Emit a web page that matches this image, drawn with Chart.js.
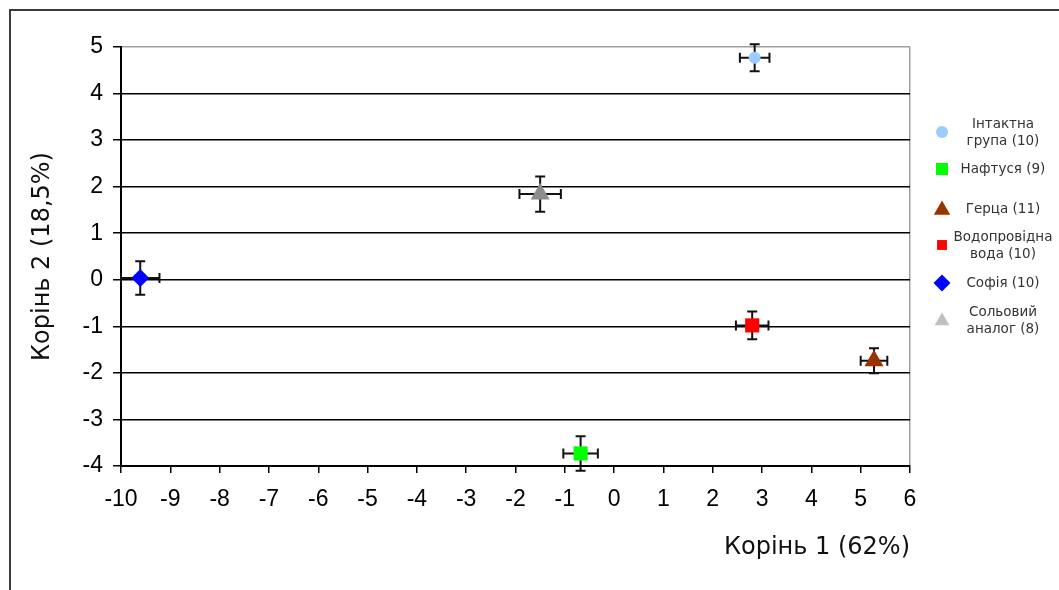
<!DOCTYPE html>
<html>
<head>
<meta charset="utf-8">
<script src="https://cdn.jsdelivr.net/npm/chart.js@4/dist/chart.umd.min.js"></script>
<style>
  html, body { margin: 0; padding: 0; background: #fff; }
  #wrap { position: relative; width: 1059px; height: 590px; }
</style>
</head>
<body>
<div id="wrap"><canvas id="c" width="1059" height="590"></canvas></div>
<script>
// Group names and legend wording (two-line entries split into lines)
const groupNames = ['Інтактна група (10)', 'Нафтуся (9)', 'Герца (11)', 'Водопровідна вода (10)', 'Софія (10)', 'Сольовий аналог (8)'];
const legendLines = [['Інтактна', 'група (10)'], ['Нафтуся (9)'], ['Герца (11)'], ['Водопровідна', 'вода (10)'], ['Софія (10)'], ['Сольовий', 'аналог (8)']];

// Group centroids on the two discriminant roots
const root1 = [2.85, -0.68, 5.27, 2.80, -9.61, -1.50];
const root2 = [4.77, -3.73, -1.74, -0.98, 0.04, 1.84];
// Standard errors along each root
const errRoot1 = [0.30, 0.35, 0.27, 0.33, 0.39, 0.42];
const errRoot2 = [0.29, 0.37, 0.27, 0.30, 0.36, 0.38];

// Axis ranges and titles
const xTicks = [-10, -9, -8, -7, -6, -5, -4, -3, -2, -1, 0, 1, 2, 3, 4, 5, 6];
const yTicks = [-4, -3, -2, -1, 0, 1, 2, 3, 4, 5];
const xTitle = 'Корінь 1 (62%)';
const yTitle = 'Корінь 2 (18,5%)';

// Marker appearance per group
const markerStyle = ['circle', 'rect', 'triangle', 'rect', 'rectRot', 'triangle'];
const markerColor = ['#99ccff', '#00ff00', '#993300', '#ff0000', '#0000ff', '#8c8c8c'];
const legendColor = ['#99ccff', '#00ff00', '#993300', '#ff0000', '#0000ff', '#c0c0c0'];
const markerRadius = [6, 10, 11, 10, 9, 11];
const legendRadius = [6, 8.5, 9.5, 7, 8.5, 8.5];

const datasets = groupNames.map((name, i) => ({
  label: name,
  data: [{ x: root1[i], y: root2[i] }],
  pointStyle: markerStyle[i],
  backgroundColor: markerColor[i],
  borderColor: markerColor[i],
  borderWidth: 0,
  pointRadius: markerRadius[i],
  pointHoverRadius: markerRadius[i]
}));

// Outer frame (top and left edges of the figure box)
const framePlugin = {
  id: 'frame',
  beforeDraw(chart) {
    const ctx = chart.ctx;
    ctx.save();
    ctx.strokeStyle = '#3c3c3c';
    ctx.lineWidth = 2;
    ctx.beginPath();
    ctx.moveTo(10, 590);
    ctx.lineTo(10, 10);
    ctx.lineTo(1059, 10);
    ctx.stroke();
    ctx.restore();
  }
};

// Error bars with end caps, drawn beneath the markers
const errorBarPlugin = {
  id: 'errorBars',
  beforeDatasetsDraw(chart) {
    const { ctx, scales: { x, y } } = chart;
    const cap = 5;
    ctx.save();
    ctx.strokeStyle = '#111';
    ctx.lineWidth = 2;
    root1.forEach((vx, i) => {
      const vy = root2[i];
      const px = x.getPixelForValue(vx);
      const py = y.getPixelForValue(vy);
      const x0 = x.getPixelForValue(vx - errRoot1[i]);
      const x1 = x.getPixelForValue(vx + errRoot1[i]);
      const y0 = y.getPixelForValue(vy - errRoot2[i]);
      const y1 = y.getPixelForValue(vy + errRoot2[i]);
      ctx.beginPath();
      ctx.moveTo(x0, py); ctx.lineTo(x1, py);
      ctx.moveTo(x0, py - cap); ctx.lineTo(x0, py + cap);
      ctx.moveTo(x1, py - cap); ctx.lineTo(x1, py + cap);
      ctx.moveTo(px, y0); ctx.lineTo(px, y1);
      ctx.moveTo(px - cap, y0); ctx.lineTo(px + cap, y0);
      ctx.moveTo(px - cap, y1); ctx.lineTo(px + cap, y1);
      ctx.stroke();
    });
    ctx.restore();
  }
};

function drawMarker(ctx, style, r, cx, cy, color) {
  ctx.save();
  ctx.fillStyle = color;
  ctx.beginPath();
  if (style === 'circle') {
    ctx.arc(cx, cy, r, 0, Math.PI * 2);
  } else if (style === 'rect') {
    const s = r * Math.SQRT1_2;
    ctx.rect(cx - s, cy - s, 2 * s, 2 * s);
  } else if (style === 'rectRot') {
    ctx.moveTo(cx, cy - r); ctx.lineTo(cx + r, cy); ctx.lineTo(cx, cy + r); ctx.lineTo(cx - r, cy);
    ctx.closePath();
  } else if (style === 'triangle') {
    const a = Math.PI * 2 / 3;
    ctx.moveTo(cx, cy - r);
    ctx.lineTo(cx + Math.sin(a) * r, cy - Math.cos(a) * r);
    ctx.lineTo(cx + Math.sin(2 * a) * r, cy - Math.cos(2 * a) * r);
    ctx.closePath();
  }
  ctx.fill();
  ctx.restore();
}

// Legend column on the right with centred, possibly two-line labels
const legendPlugin = {
  id: 'sideLegend',
  afterDraw(chart) {
    const ctx = chart.ctx;
    const rowY = [133, 169, 209, 246, 283, 321];
    const markerX = 942;
    const textX = 1003;
    const lineGap = 17;
    ctx.save();
    ctx.font = '13.5px "DejaVu Sans"';
    ctx.fillStyle = '#333';
    ctx.textAlign = 'center';
    ctx.textBaseline = 'middle';
    legendLines.forEach((lines, i) => {
      const yc = rowY[i];
      const mY = lines.length > 1 ? yc - 1 : yc;
      drawMarker(ctx, markerStyle[i], legendRadius[i], markerX, mY + (markerStyle[i] === 'triangle' ? 1 : 0), legendColor[i]);
      const start = yc - (lines.length - 1) * lineGap / 2;
      lines.forEach((t, k) => ctx.fillText(t, textX, start + k * lineGap));
    });
    ctx.restore();
  }
};

new Chart(document.getElementById('c'), {
  type: 'scatter',
  data: { datasets },
  plugins: [framePlugin, errorBarPlugin, legendPlugin],
  options: {
    responsive: false,
    animation: false,
    events: [],
    layout: { padding: { top: 47, right: 149, left: 0, bottom: 0 } },
    plugins: { legend: { display: false }, tooltip: { enabled: false } },
    scales: {
      x: {
        type: 'linear',
        min: xTicks[0],
        max: xTicks[xTicks.length - 1],
        afterBuildTicks: (s) => { s.ticks = xTicks.map(v => ({ value: v })); },
        afterFit: (s) => { s.height = 124; },
        border: { color: '#000', width: 2 },
        grid: {
          drawOnChartArea: true,
          color: (c) => (c.tick && c.tick.value === 6 ? '#a0a0a0' : 'rgba(0,0,0,0)'),
          lineWidth: 1.5,
          tickColor: '#000',
          tickLength: 7,
          tickWidth: 1.5
        },
        ticks: {
          color: '#000',
          font: { family: '"Liberation Sans", Arial', size: 23 },
          padding: 13,
          maxRotation: 0,
          autoSkip: false
        },
        title: {
          display: true,
          text: xTitle,
          align: 'end',
          color: '#111',
          font: { family: '"DejaVu Sans"', size: 24 },
          padding: { top: 0, bottom: 28 }
        }
      },
      y: {
        type: 'linear',
        min: yTicks[0],
        max: yTicks[yTicks.length - 1],
        afterBuildTicks: (s) => { s.ticks = yTicks.map(v => ({ value: v })); },
        afterFit: (s) => { s.width = 121; },
        border: { color: '#000', width: 2 },
        grid: {
          color: (c) => (c.tick && c.tick.value === 5 ? '#a0a0a0' : '#000'),
          lineWidth: 1.5,
          tickColor: '#000',
          tickLength: 8,
          tickWidth: 1.5
        },
        ticks: {
          color: '#000',
          font: { family: '"Liberation Sans", Arial', size: 23 },
          padding: 10,
          autoSkip: false
        },
        title: {
          display: true,
          text: yTitle,
          color: '#111',
          font: { family: '"DejaVu Sans"', size: 24 },
          padding: { top: 28, bottom: 0 }
        }
      }
    }
  }
});
</script>
</body>
</html>
